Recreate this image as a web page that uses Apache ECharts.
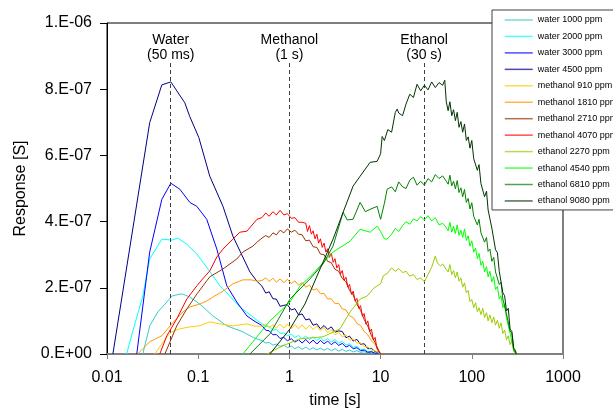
<!DOCTYPE html>
<html><head><meta charset="utf-8">
<script src="https://cdn.jsdelivr.net/npm/echarts@6/dist/echarts.min.js"></script>
<style>html,body{margin:0;padding:0;background:#fff}#c{width:613px;height:414px}</style>
</head><body><div id="c"></div>
<script>
// tick labels
const xTickLabels = ['0.01', '0.1', '1', '10', '100', '1000'];
const yTickLabels = ['0.E+00', '2.E-07', '4.E-07', '6.E-07', '8.E-07', '1.E-06'];
const yUnit = 1e-7; // series responses below are in units of 1e-7 S

const seriesNames = ['water 1000 ppm', 'water 2000 ppm', 'water 3000 ppm', 'water 4500 ppm',
  'methanol 910 ppm', 'methanol 1810 ppm', 'methanol 2710 ppm', 'methanol 4070 ppm',
  'ethanol 2270 ppm', 'ethanol 4540 ppm', 'ethanol 6810 ppm', 'ethanol 9080 ppm'];

// [time s, response 1e-7 S]
const water1000 = [[0.0247,0],[0.0294,0.85],[0.0361,1.27],[0.0453,1.57],[0.0514,1.75],[0.0628,1.81],[0.0678,1.81],[0.0809,1.72],[0.104,1.51],[0.145,1.15],[0.206,0.85],[0.309,0.67],[0.40,0.50],
  [0.5,0.40],[0.55,0.33],[0.6,0.35],[0.66,0.27],[0.72,0.30],[0.79,0.23],[0.87,0.27],[0.95,0.19],[1.05,0.24],[1.15,0.16],[1.26,0.22],[1.38,0.14],[1.51,0.21],[1.66,0.13],[1.82,0.19],[2.0,0.12],[2.19,0.18],[2.4,0.11],[2.63,0.17],[2.88,0.10],[3.16,0.16],[3.47,0.09],[3.8,0.14],[4.17,0.08],[4.57,0.12],[5.01,0.06],[5.5,0.10],[6.03,0.05],[6.61,0.07],[7.24,0.03],[7.94,0.05],[8.71,0.01],[9.55,0.02],[10,0]];
const water2000 = [[0.0164,0],[0.0191,0.67],[0.0247,1.75],[0.0294,2.87],[0.0399,3.47],[0.0514,3.44],[0.0597,3.50],[0.0750,3.32],[0.0966,3.02],[0.124,2.62],[0.173,2.06],[0.222,1.75],[0.286,1.42],[0.398,1.12],[0.45,1.0],
  [0.5,0.92],[0.55,0.84],[0.6,0.83],[0.66,0.72],[0.72,0.74],[0.79,0.62],[0.87,0.64],[0.95,0.55],[1.05,0.60],[1.15,0.50],[1.26,0.56],[1.38,0.46],[1.51,0.54],[1.66,0.44],[1.82,0.52],[2.0,0.41],[2.19,0.49],[2.4,0.39],[2.63,0.47],[2.88,0.36],[3.16,0.44],[3.47,0.33],[3.8,0.38],[4.17,0.27],[4.57,0.31],[5.01,0.20],[5.5,0.23],[6.03,0.13],[6.61,0.15],[7.24,0.07],[7.94,0.08],[8.71,0.02],[9.55,0.03],[10,0]];
const water3000 = [[0.0212,0],[0.0294,3.08],[0.0399,4.67],[0.0501,5.16],[0.0628,4.98],[0.0809,4.58],[0.0966,4.46],[0.124,4.07],[0.160,3.17],[0.206,2.06],[0.265,1.57],[0.342,1.15],[0.42,0.98],
  [0.5,0.86],[0.55,0.72],[0.6,0.70],[0.66,0.58],[0.72,0.59],[0.79,0.47],[0.87,0.50],[0.95,0.40],[1.05,0.46],[1.15,0.36],[1.26,0.43],[1.38,0.33],[1.51,0.44],[1.66,0.32],[1.82,0.42],[2.0,0.30],[2.19,0.41],[2.4,0.31],[2.63,0.39],[2.88,0.28],[3.16,0.37],[3.47,0.26],[3.8,0.32],[4.17,0.21],[4.57,0.26],[5.01,0.16],[5.5,0.19],[6.03,0.10],[6.61,0.12],[7.24,0.05],[7.94,0.07],[8.71,0.02],[9.55,0.03],[10,0]];
const water4500 = [[0.0116,0],[0.0294,6.99],[0.0399,8.13],[0.0501,8.22],[0.0713,7.59],[0.0809,7.17],[0.1016,6.54],[0.134,5.37],[0.187,4.46],[0.240,3.56],[0.369,2.48],[0.44,2.2],
  [0.5,2.05],[0.55,1.84],[0.6,1.88],[0.66,1.67],[0.72,1.66],[0.79,1.44],[0.87,1.47],[0.95,1.49],[1.05,1.33],[1.15,1.37],[1.26,1.18],[1.38,1.21],[1.51,1.03],[1.66,1.06],[1.82,0.87],[2.0,0.91],[2.19,0.76],[2.4,0.86],[2.63,0.74],[2.88,0.82],[3.16,0.66],[3.47,0.70],[3.8,0.68],[4.17,0.49],[4.57,0.54],[5.01,0.39],[5.5,0.44],[6.03,0.29],[6.61,0.31],[7.24,0.16],[7.94,0.17],[8.71,0.07],[9.55,0.05],[10,0]];
const methanol910 = [[0.0334,0],[0.0453,0.52],[0.0514,0.67],[0.0628,0.76],[0.0809,0.82],[0.104,0.85],[0.134,0.97],[0.173,0.91],[0.240,0.85],[0.342,0.91],[0.42,0.84],
  [0.5,0.84],[0.55,0.90],[0.6,0.80],[0.66,0.88],[0.72,0.79],[0.79,0.90],[0.87,0.78],[0.95,0.91],[1.05,0.77],[1.15,0.89],[1.26,0.76],[1.38,0.88],[1.51,0.75],[1.66,0.87],[1.82,0.74],[2.0,0.85],[2.19,0.70],[2.4,0.80],[2.63,0.64],[2.88,0.74],[3.16,0.58],[3.47,0.66],[3.8,0.52],[4.17,0.58],[4.57,0.42],[5.01,0.46],[5.5,0.33],[6.03,0.34],[6.61,0.22],[7.24,0.22],[7.94,0.12],[8.71,0.10],[9.55,0.04],[10,0]];
const methanol1810 = [[0.0217,0],[0.0294,0.37],[0.0399,0.55],[0.0514,0.91],[0.0678,1.27],[0.0809,1.42],[0.104,1.51],[0.124,1.60],[0.145,1.72],[0.187,1.90],[0.240,2.12],[0.309,2.24],[0.38,2.24],[0.441,2.20],
  [0.5,2.22],[0.55,2.30],[0.6,2.19],[0.66,2.29],[0.72,2.17],[0.79,2.27],[0.87,2.15],[0.95,2.26],[1.05,2.13],[1.15,2.21],[1.26,2.08],[1.38,2.16],[1.51,2.02],[1.66,2.08],[1.82,1.93],[2.0,1.97],[2.19,1.82],[2.4,1.83],[2.63,1.66],[2.88,1.67],[3.16,1.52],[3.47,1.53],[3.8,1.36],[4.17,1.33],[4.57,1.15],[5.01,1.10],[5.5,0.92],[6.03,0.86],[6.61,0.68],[7.24,0.58],[7.94,0.40],[8.71,0.28],[9.55,0.10],[10,0]];
const methanol2710 = [[0.0431,0],[0.0582,0.85],[0.0750,1.36],[0.0966,1.81],[0.124,2.21],[0.134,2.33],[0.187,2.57],[0.265,2.87],[0.309,3.08],[0.398,3.26],[0.45,3.40],
  [0.5,3.50],[0.55,3.58],[0.6,3.52],[0.66,3.66],[0.72,3.60],[0.79,3.74],[0.87,3.66],[0.95,3.78],[1.05,3.68],[1.15,3.74],[1.26,3.62],[1.38,3.60],[1.51,3.42],[1.66,3.44],[1.82,3.24],[2.0,3.22],[2.19,3.02],[2.4,3.00],[2.63,2.80],[2.88,2.76],[3.16,2.56],[3.47,2.50],[3.8,2.28],[4.17,2.18],[4.57,1.92],[5.01,1.78],[5.5,1.50],[6.03,1.32],[6.61,1.04],[7.24,0.84],[7.94,0.55],[8.71,0.34],[9.55,0.10],[10,0]];
const methanol4070 = [[0.0379,0],[0.0453,0.55],[0.0582,1.06],[0.0750,1.66],[0.0966,2.06],[0.112,2.27],[0.134,2.51],[0.160,2.93],[0.187,3.17],[0.240,3.47],[0.286,3.68],[0.342,3.71],[0.441,4.07],
  [0.5,4.12],[0.55,4.26],[0.6,4.16],[0.66,4.30],[0.72,4.20],[0.79,4.34],[0.87,4.20],[0.95,4.24],[1.05,4.10],[1.15,4.12],[1.26,3.98],[1.38,3.98],
  [1.51,3.95],[1.58,3.70],[1.66,3.88],[1.74,3.62],[1.82,3.72],[1.91,3.48],[2.0,3.62],[2.09,3.35],[2.19,3.48],[2.29,3.22],[2.4,3.35],[2.51,3.08],[2.63,3.18],[2.75,2.92],[2.88,3.05],[3.02,2.77],[3.16,2.88],[3.31,2.60],[3.47,2.70],[3.63,2.42],[3.8,2.52],[3.98,2.23],[4.17,2.32],[4.37,2.02],[4.57,2.10],[4.79,1.80],[5.01,1.90],[5.25,1.60],[5.5,1.68],[5.75,1.38],[6.03,1.46],[6.31,1.14],[6.61,1.22],[6.92,0.90],[7.24,1.00],[7.59,0.68],[7.94,0.75],[8.32,0.42],[8.71,0.50],[9.12,0.16],[9.55,0.22],[10,0]];
const ethanol2270 = [[0.567,0],[0.851,0.25],[1.31,0.46],[2.34,0.52],[3.59,0.76],[4.63,1.27],[5.96,1.66],[7.11,1.75],[8.5,2.0],
  [10,2.12],[10.7,2.36],[12,2.45],[13.2,2.60],[14.5,2.50],[15.8,2.58],[17.4,2.46],[19,2.50],[20.9,2.35],[22.9,2.40],[25.1,2.25],[27.5,2.30],[30.2,2.18],[33.1,2.40],[36.3,2.62],[39.8,2.96],[42,2.75],[45.1,2.66],[47.9,2.72],
  [52.5,2.55],[55,2.48],[57.5,2.70],[60.3,2.40],[63.1,2.52],[66.1,2.30],[69.2,2.48],[72.4,2.20],[75.9,2.30],[79.4,2.02],[83.2,2.15],[87.1,1.85],[91.2,1.92],[95.5,1.58],[100,1.65],[105,1.40],[110,1.55],[115,1.28],[120,1.40],[126,1.19],[132,1.38],[138,1.10],[145,1.25],[151,1.00],[158,1.18],[166,0.95],[174,1.12],[182,0.87],[191,1.02],[200,0.78],[209,0.94],[219,0.62],[229,0.72],[240,0.43],[251,0.55],[263,0.28],[275,0.40],[288,0.08],[302,0.10],[308,0]];
const ethanol4540 = [[0.309,0],[0.612,1.00],[1.016,1.57],[1.31,2.06],[1.68,2.33],[2.17,2.66],[3.01,3.08],[4.63,3.41],[5.96,3.77],[7.67,3.68],[9.16,3.86],
  [10,3.70],[11,3.48],[11.8,3.47],[13.2,3.62],[14.5,3.80],[15.8,3.70],[17.4,3.88],[19,4.00],[20.9,3.92],[22.9,4.08],[25.1,4.02],[27.5,4.15],[30.2,4.05],[33.1,4.18],[36.3,4.02],[39.8,4.12],[43.7,3.90],[47.9,3.95],
  [52.5,3.82],[55,3.72],[57.5,3.98],[60.3,3.68],[63.1,3.86],[66.1,3.64],[69.2,3.90],[72.4,3.58],[75.9,3.74],[79.4,3.52],[83.2,3.78],[87.1,3.43],[91.2,3.57],[95.5,3.26],[100,3.42],[105,3.08],[110,3.20],[115,2.88],[120,3.04],[126,2.68],[132,2.80],[138,2.48],[145,2.64],[151,2.33],[158,2.50],[166,2.18],[174,2.34],[182,1.95],[191,2.04],[200,1.66],[209,1.76],[219,1.40],[229,1.52],[240,1.08],[251,1.14],[263,0.63],[275,0.57],[288,0.13],[302,0.10],[308,0]];
const ethanol6810 = [[0.369,0],[0.612,0.61],[1.016,1.66],[1.68,2.27],[2.34,2.72],[3.01,3.26],[3.88,4.28],[4.3,4.05],[4.99,4.07],[5.96,4.58],[6.8,4.30],[7.67,4.37],[9.16,4.46],[10,4.07],
  [11,4.55],[11.8,4.98],[13.2,5.05],[14.5,4.90],[15.8,5.20],[17.4,5.05],[19,5.00],[20.9,5.25],[22.9,5.34],[25.1,5.10],[27.5,5.22],[30.2,5.10],[33.1,5.30],[36.3,5.20],[39.8,5.42],[43.7,5.30],[47.9,5.38],
  [52.5,5.22],[55,5.13],[57.5,5.40],[60.3,5.08],[63.1,5.22],[66.1,4.99],[69.2,5.24],[72.4,4.88],[75.9,5.02],[79.4,4.75],[83.2,4.97],[87.1,4.58],[91.2,4.70],[95.5,4.38],[100,4.57],[105,4.16],[110,4.22],[115,3.90],[120,4.07],[126,3.66],[132,3.72],[138,3.38],[145,3.52],[151,3.10],[158,3.17],[166,2.80],[174,2.92],[182,2.48],[191,2.52],[200,2.10],[209,2.17],[219,1.66],[229,1.64],[240,1.21],[251,1.27],[263,0.70],[275,0.62],[288,0.13],[302,0.10],[308,0]];
const ethanol9080 = [[0.612,0],[1.016,0.76],[1.48,1.51],[2.17,2.57],[3.01,3.47],[3.88,4.28],[4.99,5.07],[5.96,5.37],[7.67,5.79],[9.16,5.82],
  [10,6.05],[10.4,6.57],[11,6.45],[12,6.78],[13.2,6.70],[14.5,7.30],[15.2,7.40],[15.8,7.28],[17.4,7.20],[19,7.55],[20.9,7.85],[22.9,7.75],[25.1,8.15],[27.5,7.95],[30.2,8.12],[33.1,7.98],[36.3,8.22],[39.8,8.05],[43.7,8.20],[47.9,8.12],[50.5,8.27],
  [52.5,7.62],[55,7.35],[57.5,7.62],[60.3,7.20],[63.1,7.38],[66.1,7.05],[69.2,7.30],[72.4,6.85],[75.9,7.02],[79.4,6.70],[83.2,6.95],[87.1,6.45],[91.2,6.56],[95.5,6.22],[100,6.45],[105,5.90],[110,5.96],[115,5.55],[120,5.72],[126,5.15],[132,5.16],[138,4.75],[145,4.92],[151,4.35],[158,4.36],[166,3.80],[174,3.82],[182,3.15],[191,3.06],[200,2.50],[209,2.52],[219,1.85],[229,1.76],[240,1.30],[251,1.38],[263,0.75],[275,0.68],[288,0.18],[302,0.10],[308,0]];

const seriesData = [water1000, water2000, water3000, water4500, methanol910, methanol1810, methanol2710, methanol4070, ethanol2270, ethanol4540, ethanol6810, ethanol9080];
const seriesColors = ['#33CCCC', '#00FFFF', '#0000FF', '#000080', '#FFCC00', '#FF9900', '#993300', '#FF0000', '#99CC00', '#00FF00', '#008000', '#003300'];

// peak-time markers
const peakTimes = [0.05, 1, 30];
const peakLabels = ['Water\n(50 ms)', 'Methanol\n(1 s)', 'Ethanol\n(30 s)'];
const markerTop = 8.8; // 1e-7 S

const FONT = 'Liberation Sans, Arial, sans-serif';
const chart = echarts.init(document.getElementById('c'), null, { renderer: 'canvas' });

const series = seriesData.map((d, i) => ({
  name: seriesNames[i], type: 'line', symbol: 'none', showSymbol: false,
  data: d.map(p => [p[0], p[1] * yUnit]),
  lineStyle: { width: 1, color: seriesColors[i] }, itemStyle: { color: seriesColors[i] },
  z: 2 + i
}));
series.push({
  name: 'markers', type: 'line', data: [], symbol: 'none',
  markLine: {
    silent: true, symbol: ['none', 'none'], animation: false,
    lineStyle: { type: [4, 3], color: '#404040', width: 1 },
    label: { show: true, position: 'end', color: '#000', fontSize: 14, fontFamily: FONT, lineHeight: 15, distance: 0 },
    data: peakTimes.map((t, i) => [
      { coord: [t, 0], label: { formatter: peakLabels[i] } },
      { coord: [t, markerTop * yUnit] }
    ])
  }
});

chart.setOption({
  animation: false,
  backgroundColor: '#fff',
  grid: { left: 107, right: 50, top: 23, bottom: 59, show: true, borderColor: '#000', borderWidth: 1, backgroundColor: 'transparent' },
  legend: {
    data: seriesNames, orient: 'vertical', left: 492, top: 10,
    padding: [5, 30, 4, 12], itemWidth: 28, itemHeight: 10, itemGap: 6.45,
    backgroundColor: '#fff', borderColor: '#404040', borderWidth: 1, borderRadius: 0,
    textStyle: { fontSize: 9, fontFamily: FONT, color: '#000', lineHeight: 10 },
    itemStyle: { opacity: 0 },
    lineStyle: { opacity: 0.7, width: 1.5 }
  },
  xAxis: {
    type: 'log', logBase: 10, min: 0.01, max: 1000,
    name: 'time [s]', nameLocation: 'middle', nameGap: 39,
    nameTextStyle: { fontSize: 16, fontFamily: FONT, color: '#000' },
    axisLine: { lineStyle: { color: '#808080', width: 2 } },
    axisTick: { lineStyle: { color: '#808080' }, length: 5 },
    splitLine: { show: false }, minorTick: { show: false },
    axisLabel: { fontSize: 16, fontFamily: FONT, color: '#000', margin: 16,
      formatter: v => xTickLabels[Math.round(Math.log10(v)) + 2] }
  },
  yAxis: {
    type: 'value', min: 0, max: 10 * yUnit, interval: 2 * yUnit,
    name: 'Response [S]', nameLocation: 'middle', nameGap: 78, nameRotate: 90,
    nameTextStyle: { fontSize: 16, fontFamily: FONT, color: '#000' },
    axisLine: { show: true, lineStyle: { color: '#000', width: 1 } },
    axisTick: { show: true, length: 7, lineStyle: { color: '#000' } },
    splitLine: { show: false },
    axisLabel: { fontSize: 16, fontFamily: FONT, color: '#000', margin: 15,
      formatter: v => yTickLabels[Math.round(v / (2 * yUnit))] }
  },
  series: series
});
</script></body></html>
